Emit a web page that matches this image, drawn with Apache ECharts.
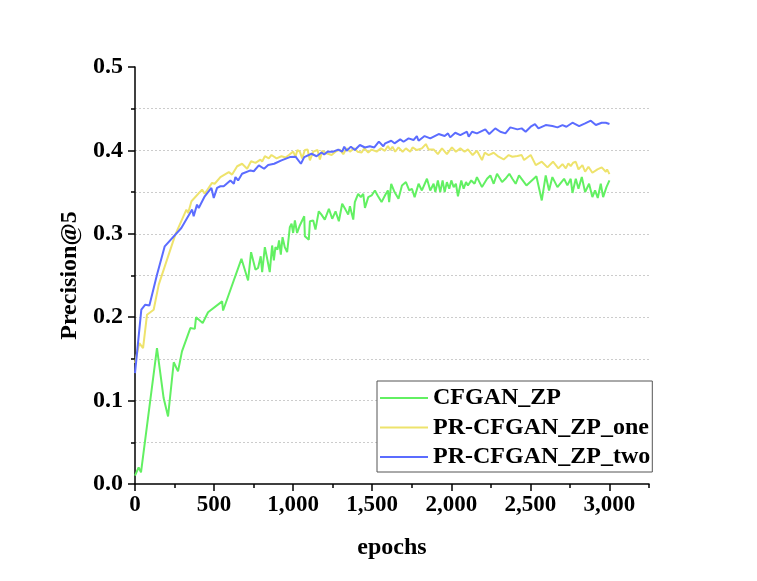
<!DOCTYPE html>
<html>
<head>
<meta charset="utf-8">
<script src="https://cdn.jsdelivr.net/npm/echarts@6/dist/echarts.min.js"></script>
<style>
html,body{margin:0;padding:0;background:#fff;}
#chart{width:757px;height:581px;}
</style>
</head>
<body>
<div id="chart"></div>
<script>
var seriesNames = ['CFGAN_ZP', 'PR-CFGAN_ZP_one', 'PR-CFGAN_ZP_two'];
var xTickValues = [0, 500, 1000, 1500, 2000, 2500, 3000];
var xTickLabels = ['0', '500', '1,000', '1,500', '2,000', '2,500', '3,000'];
var yTickLabels = ['0.0', '0.1', '0.2', '0.3', '0.4', '0.5'];

var greenEpochs = [0,23,38,139,181,209,245,272,297,350,378,386,428,462,551,557,673,715,734,762,778,795,804,821,838,852,867,878,888,901,911,922,933,947,962,979,990,1000,1011,1025,1042,1070,1074,1099,1106,1127,1141,1162,1179,1200,1226,1247,1268,1289,1310,1331,1348,1359,1380,1390,1411,1428,1443,1454,1475,1496,1517,1534,1559,1582,1599,1607,1620,1641,1666,1688,1713,1734,1751,1768,1793,1814,1846,1867,1888,1899,1915,1930,1945,1958,1972,1987,2000,2015,2029,2042,2063,2078,2093,2105,2126,2147,2162,2194,2226,2247,2268,2289,2321,2342,2367,2386,2407,2428,2475,2538,2572,2597,2618,2639,2671,2713,2734,2755,2766,2787,2804,2825,2846,2871,2892,2909,2926,2945,2960,2981,3000];
var greenValues = [0.010,0.020,0.014,0.163,0.103,0.081,0.146,0.135,0.159,0.187,0.186,0.200,0.193,0.206,0.219,0.208,0.270,0.244,0.278,0.257,0.259,0.273,0.254,0.284,0.268,0.254,0.286,0.268,0.284,0.281,0.292,0.275,0.296,0.284,0.278,0.308,0.312,0.301,0.316,0.301,0.310,0.321,0.297,0.293,0.315,0.316,0.305,0.327,0.323,0.317,0.330,0.318,0.327,0.315,0.336,0.329,0.323,0.333,0.317,0.338,0.348,0.344,0.348,0.331,0.344,0.346,0.352,0.346,0.338,0.3465,0.352,0.338,0.360,0.350,0.342,0.358,0.362,0.352,0.354,0.344,0.360,0.352,0.366,0.352,0.360,0.350,0.364,0.350,0.364,0.350,0.362,0.354,0.364,0.356,0.360,0.345,0.364,0.354,0.362,0.358,0.364,0.360,0.368,0.356,0.366,0.370,0.360,0.372,0.362,0.366,0.372,0.366,0.360,0.370,0.358,0.369,0.340,0.370,0.352,0.368,0.356,0.366,0.358,0.366,0.349,0.366,0.354,0.368,0.350,0.360,0.344,0.352,0.343,0.360,0.344,0.356,0.364];

var yellowEpochs = [0,27,51,76,118,150,192,255,325,336,357,424,441,487,504,540,593,614,646,677,709,734,762,793,804,821,846,863,895,926,952,973,1000,1015,1027,1042,1057,1074,1091,1106,1127,1154,1169,1184,1211,1243,1268,1296,1317,1338,1359,1386,1407,1433,1450,1475,1496,1528,1555,1580,1599,1614,1628,1645,1666,1692,1713,1740,1755,1782,1814,1839,1856,1888,1915,1941,1972,2004,2029,2057,2084,2105,2135,2162,2194,2211,2236,2268,2299,2331,2363,2386,2418,2445,2460,2502,2534,2572,2608,2643,2677,2703,2724,2740,2755,2770,2787,2804,2829,2846,2867,2892,2924,2951,2977,2985,3000];
var yellowValues = [0.145,0.169,0.163,0.203,0.209,0.239,0.263,0.299,0.329,0.325,0.339,0.353,0.348,0.361,0.360,0.368,0.374,0.371,0.381,0.384,0.378,0.387,0.385,0.389,0.3865,0.393,0.3905,0.3945,0.3905,0.393,0.3915,0.3945,0.3985,0.3925,0.4005,0.3985,0.3905,0.4005,0.401,0.388,0.3985,0.4005,0.389,0.3995,0.3965,0.3945,0.3985,0.401,0.3955,0.4025,0.3985,0.4025,0.3985,0.3975,0.4025,0.3975,0.401,0.3985,0.4025,0.3995,0.4052,0.4004,0.4044,0.3984,0.4036,0.3984,0.4024,0.3984,0.4036,0.4004,0.4024,0.4076,0.4012,0.4012,0.3956,0.4024,0.3956,0.4036,0.3984,0.4024,0.3984,0.4012,0.3944,0.3996,0.3884,0.3972,0.3944,0.3972,0.3924,0.3892,0.3944,0.3924,0.3932,0.3944,0.3884,0.3944,0.3824,0.3864,0.3796,0.3864,0.3784,0.3836,0.3784,0.3844,0.3812,0.3852,0.3864,0.3772,0.3824,0.3744,0.3804,0.3732,0.3772,0.3796,0.3744,0.3772,0.3716];

var blueEpochs = [0,40,51,65,91,139,188,293,361,371,392,403,441,483,498,519,540,561,603,625,635,652,677,730,751,783,816,842,880,926,979,1015,1049,1070,1116,1148,1179,1196,1217,1253,1285,1310,1323,1338,1365,1390,1422,1454,1485,1513,1542,1570,1582,1620,1641,1677,1698,1730,1761,1782,1793,1831,1867,1920,1958,1979,1993,2025,2057,2099,2110,2131,2162,2215,2240,2278,2310,2342,2373,2418,2445,2470,2502,2529,2551,2597,2639,2671,2703,2728,2766,2808,2846,2882,2914,2951,2977,3000];
var blueValues = [0.133,0.209,0.208,0.215,0.214,0.251,0.285,0.307,0.329,0.321,0.335,0.331,0.345,0.355,0.343,0.355,0.357,0.357,0.364,0.360,0.368,0.364,0.372,0.376,0.375,0.382,0.378,0.3825,0.384,0.388,0.392,0.3925,0.384,0.392,0.396,0.393,0.3975,0.395,0.3985,0.3985,0.401,0.3985,0.4045,0.3995,0.4045,0.4005,0.4065,0.4035,0.405,0.4035,0.4105,0.405,0.4085,0.4116,0.4085,0.4132,0.4104,0.4144,0.4124,0.4172,0.4116,0.4172,0.4144,0.4196,0.4172,0.4204,0.4156,0.4212,0.4184,0.4224,0.4164,0.4224,0.4204,0.4252,0.4196,0.4264,0.4224,0.4204,0.4276,0.4252,0.4264,0.4224,0.4284,0.4316,0.4264,0.4304,0.4292,0.4276,0.4304,0.4284,0.4332,0.4292,0.4324,0.4356,0.4304,0.4332,0.4332,0.4316];

var colors = ['#62f062', '#eee36c', '#5b6cff'];

function zip(xs, ys) {
  var out = [];
  for (var i = 0; i < xs.length; i++) out.push([xs[i], ys[i]]);
  return out;
}

var FONT = '"Liberation Serif", "Times New Roman", serif';
var chart = echarts.init(document.getElementById('chart'), null, {renderer: 'canvas'});

var gridPos = {left: 135, right: 108, top: 67, bottom: 97};

var option = {
  backgroundColor: '#ffffff',
  animation: false,
  grid: [
    Object.assign({}, gridPos),
    Object.assign({}, gridPos)
  ],
  legend: {
    orient: 'vertical',
    left: 377,
    top: 381,
    padding: [5, 2, 3, 3],
    itemGap: 5.5,
    itemWidth: 48,
    itemHeight: 2,
    icon: 'rect',
    borderColor: '#555555',
    borderWidth: 1,
    backgroundColor: '#ffffff',
    textStyle: {fontFamily: FONT, fontWeight: 'bold', fontSize: 24, color: '#000', lineHeight: 24},
    data: seriesNames
  },
  xAxis: [
    {
      type: 'value', gridIndex: 0, min: 0, max: 3250, interval: 500,
      name: 'epochs', nameLocation: 'middle', nameGap: 52,
      nameTextStyle: {fontFamily: FONT, fontWeight: 'bold', fontSize: 24, color: '#000'},
      axisLine: {show: true, onZero: false, lineStyle: {color: '#000', width: 1.5}},
      axisTick: {show: true, inside: false, length: 7, lineStyle: {color: '#000', width: 1.5}, customValues: xTickValues},
      axisLabel: {
        show: true, margin: 10, customValues: xTickValues,
        fontFamily: FONT, fontWeight: 'bold', fontSize: 23, color: '#000',
        formatter: function (v) {
          var i = xTickValues.indexOf(v);
          return i >= 0 ? xTickLabels[i] : '';
        }
      },
      splitLine: {show: false}
    },
    {
      type: 'value', gridIndex: 1, min: 0, max: 3250, interval: 250,
      axisLine: {show: false},
      axisTick: {show: true, inside: false, length: 4, lineStyle: {color: '#000', width: 1.5}},
      axisLabel: {show: false},
      splitLine: {show: false}
    }
  ],
  yAxis: [
    {
      type: 'value', gridIndex: 0, min: 0, max: 0.5, interval: 0.1,
      name: 'Precision@5', nameLocation: 'middle', nameGap: 46, nameRotate: 90,
      nameTextStyle: {fontFamily: FONT, fontWeight: 'bold', fontSize: 24, color: '#000'},
      axisLine: {show: true, onZero: false, lineStyle: {color: '#000', width: 1.5}},
      axisTick: {show: true, inside: false, length: 7, lineStyle: {color: '#000', width: 1.5}},
      minorTick: {show: true, splitNumber: 2, length: 4, lineStyle: {color: '#000', width: 1.5}},
      axisLabel: {
        show: true, margin: 12,
        fontFamily: FONT, fontWeight: 'bold', fontSize: 24, color: '#000',
        formatter: function (v) {
          var i = Math.round(v * 10);
          return yTickLabels[i] !== undefined ? yTickLabels[i] : '';
        }
      },
      splitLine: {show: true, showMinLine: false, showMaxLine: false, lineStyle: {color: '#cccccc', width: 1, type: [2, 2]}},
      minorSplitLine: {show: true, lineStyle: {color: '#cccccc', width: 1, type: [2, 2]}}
    },
    {
      type: 'value', gridIndex: 1, min: 0, max: 1, show: false
    }
  ],
  series: [
    {name: seriesNames[0], type: 'line', xAxisIndex: 0, yAxisIndex: 0, data: zip(greenEpochs, greenValues),
      symbol: 'none', showSymbol: false, lineStyle: {color: colors[0], width: 2}, itemStyle: {color: colors[0]}},
    {name: seriesNames[1], type: 'line', xAxisIndex: 0, yAxisIndex: 0, data: zip(yellowEpochs, yellowValues),
      symbol: 'none', showSymbol: false, lineStyle: {color: colors[1], width: 2}, itemStyle: {color: colors[1]}},
    {name: seriesNames[2], type: 'line', xAxisIndex: 0, yAxisIndex: 0, data: zip(blueEpochs, blueValues),
      symbol: 'none', showSymbol: false, lineStyle: {color: colors[2], width: 2}, itemStyle: {color: colors[2]}}
  ]
};
chart.setOption(option);
</script>
</body>
</html>
